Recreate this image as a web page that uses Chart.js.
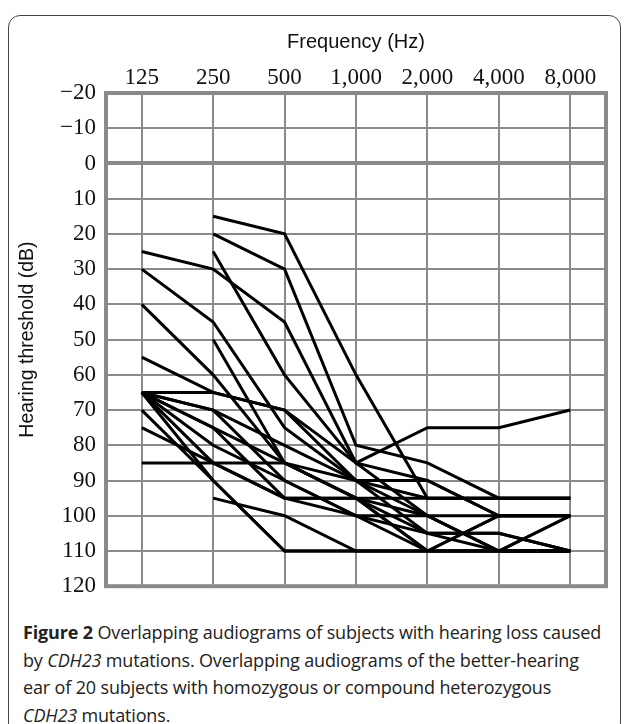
<!DOCTYPE html>
<html>
<head>
<meta charset="utf-8">
<script src="https://cdn.jsdelivr.net/npm/chart.js@4.4.1/dist/chart.umd.min.js"></script>
<style>
  html, body { margin:0; padding:0; background:#fff; }
  body { width:627px; height:724px; position:relative; overflow:hidden; }
  #frame { position:absolute; left:8px; top:15px; width:613px; height:720px; border:1.5px solid #444; border-radius:12px; box-sizing:border-box; }
  #wrap { position:absolute; left:0; top:0; width:627px; height:610px; }
  #caption { position:absolute; left:23px; top:619px; width:600px; font-family:"Open Sans", sans-serif; font-size:18px; line-height:27.5px; color:#222; letter-spacing:-0.15px; white-space:nowrap; }
  #caption b { font-weight:700; }
</style>
</head>
<body>
<div id="frame"></div>
<div id="wrap"><canvas id="c" width="627" height="610"></canvas></div>
<div id="caption"><b>Figure 2</b> Overlapping audiograms of subjects with hearing loss caused<br>by <i>CDH23</i> mutations. Overlapping audiograms of the better-hearing<br>ear of 20 subjects with homozygous or compound heterozygous<br><i>CDH23</i> mutations.</div>
<script>
const frequencies = ['125', '250', '500', '1,000', '2,000', '4,000', '8,000'];
const yTicks = [-20, -10, 0, 10, 20, 30, 40, 50, 60, 70, 80, 90, 100, 110, 120];

const s1  = [null, 15, 20, 60, 95, 95, 95];
const s2  = [null, 20, 30, 80, 85, 95, 95];
const s3  = [25, 30, 45, 85, 75, 75, 70];
const s4  = [30, 45, 75, 90, 100, 110, 100];
const s5  = [40, 60, 85, 95, 110, 100, 100];
const s6  = [55, 65, 70, 85, 90, 100, 100];
const s7  = [65, 65, 70, 90, 90, 100, 100];
const s8  = [65, 70, 80, 90, 105, 105, 110];
const s9  = [65, 75, 85, 95, 100, 110, 110];
const s10 = [65, 80, 90, 100, 110, 110, 110];
const s11 = [70, 90, 110, 110, 110, 110, 110];
const s12 = [75, 85, 95, 100, 105, 105, 110];
const s13 = [85, 85, 85, 90, 95, 95, 95];
const s14 = [null, 25, 60, 85, 100, 100, 100];
const s15 = [null, 50, 85, 95, 110, 110, 110];
const s16 = [null, 95, 100, 110, 110, 100, 100];
const s17 = [65, 85, 95, 95, 95, 95, 95];
const s18 = [65, 90, 110, 110, 110, 110, 110];
const s19 = [65, 70, 90, 100, 100, 110, 100];
const s20 = [65, 75, 95, 95, 105, 110, 110];

const subjects = [s1,s2,s3,s4,s5,s6,s7,s8,s9,s10,s11,s12,s13,s14,s15,s16,s17,s18,s19,s20];

const boxPlugin = {
  id: 'box',
  afterDraw(chart) {
    const {ctx, chartArea: a} = chart;
    ctx.save();
    ctx.strokeStyle = '#8a8a8a';
    ctx.lineWidth = 4;
    ctx.strokeRect(a.left, a.top, a.right - a.left, a.bottom - a.top);
    ctx.restore();
  }
};

const serif = '"Liberation Serif", "Times New Roman", serif';
const sans = '"Liberation Sans", Arial, sans-serif';

new Chart(document.getElementById('c'), {
  type: 'line',
  data: {
    labels: frequencies,
    datasets: subjects.map((d, i) => ({
      label: 'Subject ' + (i + 1),
      data: d,
      borderColor: '#000',
      borderWidth: 3,
      pointRadius: 0,
      tension: 0,
      fill: false,
      spanGaps: false
    }))
  },
  options: {
    responsive: false,
    animation: false,
    layout: { padding: { left: 0, right: 21, top: 0, bottom: 17 } },
    plugins: { legend: { display: false }, tooltip: { enabled: false } },
    scales: {
      x: {
        type: 'category',
        position: 'top',
        offset: true,
        grid: { color: '#8a8a8a', lineWidth: 2, drawTicks: false, offset: false },
        border: { display: false },
        ticks: { color: '#111', padding: 1, font: { family: serif, size: 23 } },
        title: { display: true, text: 'Frequency (Hz)', color: '#111', padding: { top: 30, bottom: 0 }, font: { family: sans, size: 20 } },
        afterFit(scale) { scale.height = 93; }
      },
      y: {
        min: -20, max: 120, reverse: true,
        afterBuildTicks(scale) { scale.ticks = yTicks.map(v => ({ value: v })); },
        grid: {
          color: '#8a8a8a', drawTicks: false,
          lineWidth: ctx => (ctx.tick && ctx.tick.value === 0) ? 4 : 2
        },
        border: { display: false },
        ticks: {
          color: '#111', padding: 10,
          font: { family: serif, size: 23 },
          callback: v => v < 0 ? '\u2212' + Math.abs(v) : String(v)
        },
        title: { display: true, text: 'Hearing threshold (dB)', color: '#111', padding: { top: 16, bottom: 0 }, font: { family: sans, size: 19.5 } },
        afterFit(scale) { scale.width = 106; }
      }
    }
  },
  plugins: [boxPlugin]
});
</script>
</body>
</html>
